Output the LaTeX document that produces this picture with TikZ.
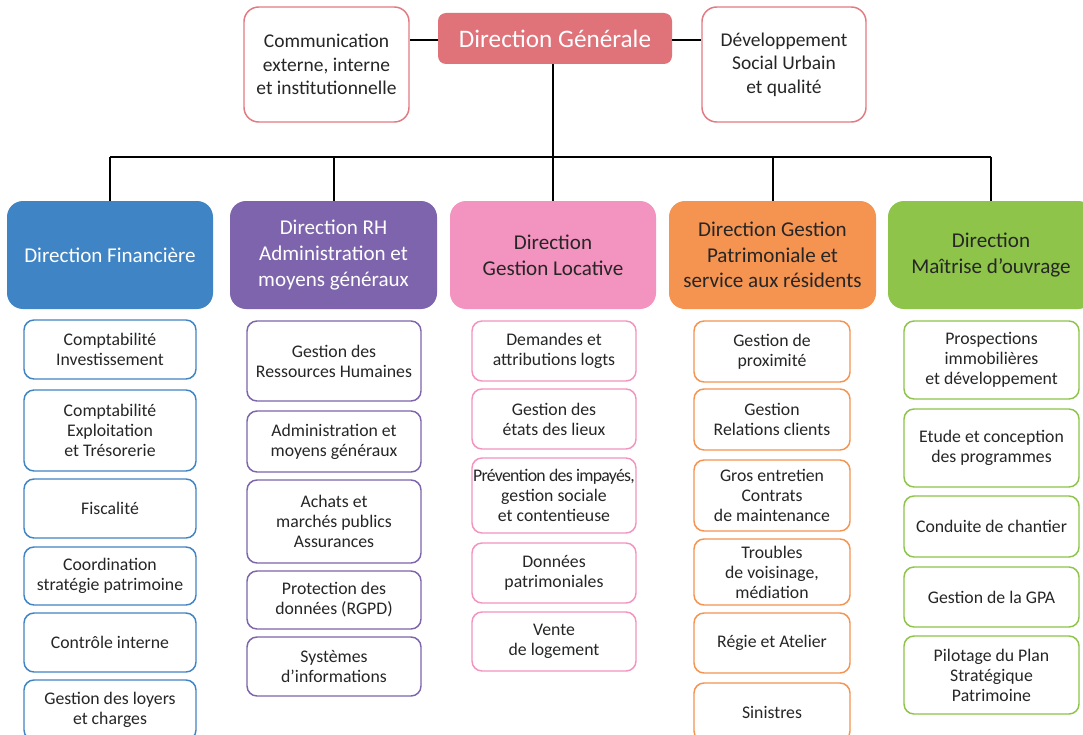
\documentclass[tikz,border=0pt]{standalone}
\usepackage{fontspec}
\setmainfont{Carlito}
\definecolor{dgred}{RGB}{224,114,122}
\definecolor{topline}{RGB}{226,122,130}
\definecolor{cblue}{RGB}{63,132,196}
\definecolor{cpurple}{RGB}{125,100,172}
\definecolor{cpink}{RGB}{243,147,191}
\definecolor{corange}{RGB}{245,147,80}
\definecolor{cgreen}{RGB}{141,196,73}
\definecolor{txt}{RGB}{38,38,38}
\newcommand\bx[7]{\node[#2, minimum width={(#5-#3)*0.75pt}, minimum height={(#6-#4)*0.75pt}] (#1) at ({(#3+#5)/2},{(#4+#6)/2}) {#7};}
\tikzset{
  base/.style={align=center, inner sep=0pt, text=txt},
  sub/.style={base, draw=#1, fill=white, line width=1.1pt, rounded corners=7.5pt, font=\fontsize{13.3}{15}\selectfont},
  topbox/.style={base, draw=topline, fill=white, line width=1.1pt, rounded corners=11pt, font=\fontsize{14.6}{17.6}\selectfont},
  dir/.style={base, fill=#1, rounded corners=12pt, font=\fontsize{15.8}{19.3}\selectfont},
  dgbox/.style={base, fill=dgred, rounded corners=6pt, text=white, font=\fontsize{18.9}{22}\selectfont},
  conn/.style={draw=black, line width=1.5pt},
}
\begin{document}
\begin{tikzpicture}[x=0.75pt,y=-0.75pt]
\useasboundingbox (0,0) rectangle (1083,735);
\clip (0,0) rectangle (1083,735);
\fill[white] (0,0) rectangle (1083,735);
% top level
\bx{dg}{dgbox}{438}{13}{672}{64}{Direction Générale}
\bx{comm}{topbox}{244}{7}{409}{122}{Communication\\externe, interne\\et institutionnelle}
\bx{dev}{topbox}{702}{7}{866}{122}{Développement\\Social Urbain\\et qualité}
% directions
\bx{fin}{dir=cblue, text=white}{7}{201}{213}{309}{Direction Financière}
\bx{rh}{dir=cpurple, text=white}{230}{201}{437}{309}{Direction RH\\Administration et\\moyens généraux}
\bx{loc}{dir=cpink}{450}{201}{656}{309}{Direction\\Gestion Locative}
\bx{pat}{dir=corange}{669}{201}{876}{309}{Direction Gestion\\Patrimoniale et\\service aux résidents}
\bx{mo}{dir=cgreen}{888}{201}{1094}{309}{Direction\\Maîtrise d’ouvrage}
% connectors
\coordinate (bus) at (553,157);
\coordinate (tl) at (553,40);
\draw[conn] (tl -| dg.west) -- (tl -| comm.east);
\draw[conn] (tl -| dg.east) -- (tl -| dev.west);
\draw[conn] (dg.south -| bus) -- (bus);
\draw[conn] (fin.north |- bus) -- (mo.north |- bus);
\foreach \n in {fin,rh,loc,pat,mo} { \draw[conn] (\n.north |- bus) -- (\n.north); }
% finance
\bx{f1}{sub=cblue}{24}{320}{196}{379}{Comptabilité\\Investissement}
\bx{f2}{sub=cblue}{24}{390}{196}{471}{Comptabilité\\Exploitation\\et Trésorerie}
\bx{f3}{sub=cblue}{24}{479}{196}{538}{Fiscalité}
\bx{f4}{sub=cblue}{24}{547}{196}{605}{Coordination\\stratégie patrimoine}
\bx{f5}{sub=cblue}{24}{613}{196}{672}{Contrôle interne}
\bx{f6}{sub=cblue}{24}{680}{196}{740}{Gestion des loyers\\et charges}
% RH
\bx{r1}{sub=cpurple}{247}{321}{421}{401}{Gestion des\\Ressources Humaines}
\bx{r2}{sub=cpurple}{247}{411}{421}{472}{Administration et\\moyens généraux}
\bx{r3}{sub=cpurple}{247}{480}{421}{563}{Achats et\\marchés publics\\Assurances}
\bx{r4}{sub=cpurple}{247}{571}{421}{629}{Protection des\\données (RGPD)}
\bx{r5}{sub=cpurple}{247}{637}{421}{696}{Systèmes\\d’informations}
% locative
\bx{l1}{sub=cpink}{472}{321}{636}{381}{Demandes et\\attributions logts}
\bx{l2}{sub=cpink}{472}{389}{636}{449}{Gestion des\\états des lieux}
\bx{l3}{sub=cpink}{472}{458}{636}{533}{{\addfontfeatures{LetterSpace=-4}Prévention des impayés,}\\gestion sociale\\et contentieuse}
\bx{l4}{sub=cpink}{472}{543}{636}{603}{Données\\patrimoniales}
\bx{l5}{sub=cpink}{472}{612}{636}{671}{Vente\\de logement}
% patrimoniale
\bx{p1}{sub=corange}{694}{321}{850}{382}{Gestion de\\proximité}
\bx{p2}{sub=corange}{694}{389}{850}{450}{Gestion\\Relations clients}
\bx{p3}{sub=corange}{694}{460}{850}{531}{Gros entretien\\Contrats\\de maintenance}
\bx{p4}{sub=corange}{694}{539}{850}{605}{Troubles\\de voisinage,\\médiation}
\bx{p5}{sub=corange}{694}{613}{850}{673}{Régie et Atelier}
\bx{p6}{sub=corange}{694}{683}{850}{741}{Sinistres}
% maitrise d'ouvrage
\bx{m1}{sub=cgreen}{904}{321}{1079}{399}{Prospections\\immobilières\\et développement}
\bx{m2}{sub=cgreen}{904}{409}{1079}{487}{Etude et conception\\des programmes}
\bx{m3}{sub=cgreen}{904}{496}{1079}{557}{Conduite de chantier}
\bx{m4}{sub=cgreen}{904}{567}{1079}{627}{Gestion de la GPA}
\bx{m5}{sub=cgreen}{904}{636}{1079}{714}{Pilotage du Plan\\Stratégique\\Patrimoine}
\end{tikzpicture}
\end{document}
